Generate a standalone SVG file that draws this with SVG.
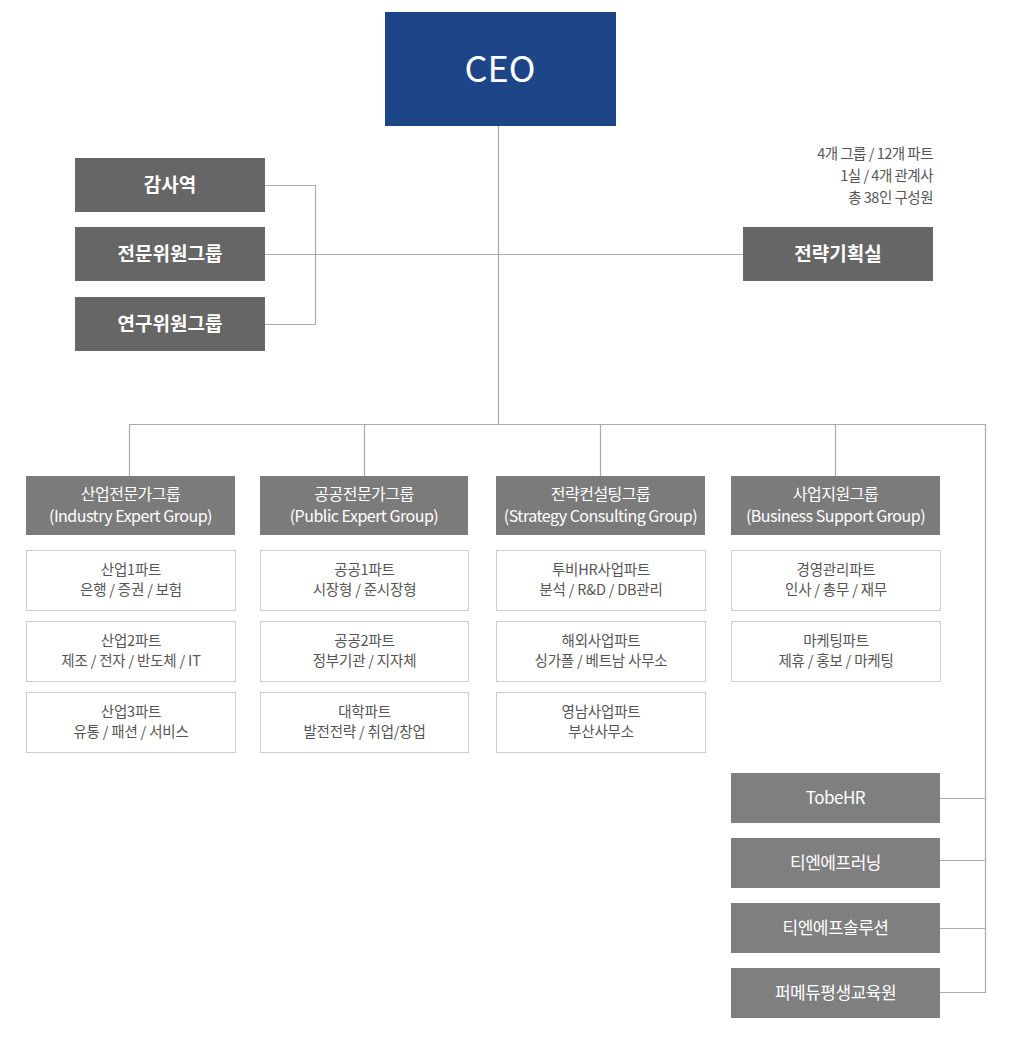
<svg xmlns="http://www.w3.org/2000/svg" width="1013" height="1048" viewBox="0 0 1013 1048">
<style>
text{font-family:"Noto Sans CJK KR","Noto Sans",sans-serif;text-anchor:middle}
.dk{fill:#666666}
.gr{fill:#7b7b7b}
.af{fill:#7f7f7f}
.sub{fill:#ffffff;stroke:#cccccc;stroke-width:1}
.wb{fill:#ffffff;font-size:19px;font-weight:bold}
.wg{fill:#ffffff;font-size:16px;letter-spacing:-0.5px}
.wa{fill:#ffffff;font-size:17px;letter-spacing:-0.5px}
.st{fill:#555555;font-size:14.5px;letter-spacing:-0.2px}
.info{fill:#555555;font-size:14.5px;text-anchor:end;letter-spacing:-0.5px}
.ln{fill:none;stroke:#aaaaaa;stroke-width:1.2}
</style>
<rect width="1013" height="1048" fill="#ffffff"/>
<g id="connectors">
<path class="ln" d="M498.5 126V424"/>
<path class="ln" d="M265 185.5H315.5V324.5H265"/>
<path class="ln" d="M265 254.5H743"/>
<path class="ln" d="M129.5 476V424.5H985.5V992.5H940"/>
<path class="ln" d="M364.5 424V476M600.5 424V476M835.5 424V476"/>
<path class="ln" d="M940 798.5H985M940 860.5H985M940 928.5H985"/>
</g>
<g id="ceo"><rect x="385" y="12" width="231" height="114" fill="#1f4589"/><text x="500" y="82" fill="#ffffff" font-size="36">CEO</text></g>
<g id="info">
<text class="info" x="933" y="159">4개 그룹 / 12개 파트</text>
<text class="info" x="933" y="181">1실 / 4개 관계사</text>
<text class="info" x="933" y="203">총 38인 구성원</text>
</g>
<g id="audit"><rect class="dk" x="75" y="158" width="190" height="54"/><text class="wb" x="170" y="192">감사역</text></g>
<g id="expert-committee"><rect class="dk" x="75" y="227" width="190" height="54"/><text class="wb" x="170" y="261">전문위원그룹</text></g>
<g id="research-committee"><rect class="dk" x="75" y="297" width="190" height="54"/><text class="wb" x="170" y="331">연구위원그룹</text></g>
<g id="strategy-office"><rect class="dk" x="743" y="227" width="190" height="54"/><text class="wb" x="838" y="261">전략기획실</text></g>

<g id="g-industry"><rect class="gr" x="26" y="476" width="209" height="59"/><text class="wg" x="130.5" y="500">산업전문가그룹</text><text class="wg" x="130.5" y="522">(Industry Expert Group)</text></g>
<g id="g-public"><rect class="gr" x="260" y="476" width="208" height="59"/><text class="wg" x="364" y="500">공공전문가그룹</text><text class="wg" x="364" y="522">(Public Expert Group)</text></g>
<g id="g-strategy"><rect class="gr" x="496" y="476" width="209" height="59"/><text class="wg" x="600.5" y="500">전략컨설팅그룹</text><text class="wg" x="600.5" y="522">(Strategy Consulting Group)</text></g>
<g id="g-business"><rect class="gr" x="731" y="476" width="209" height="59"/><text class="wg" x="835.5" y="500">사업지원그룹</text><text class="wg" x="835.5" y="522">(Business Support Group)</text></g>

<g id="p-ind1"><rect class="sub" x="26.5" y="550.5" width="209" height="60"/><text class="st" x="131" y="575">산업1파트</text><text class="st" x="131" y="595">은행 / 증권 / 보험</text></g>
<g id="p-ind2"><rect class="sub" x="26.5" y="621.5" width="209" height="60"/><text class="st" x="131" y="646">산업2파트</text><text class="st" x="131" y="666">제조 / 전자 / 반도체 / IT</text></g>
<g id="p-ind3"><rect class="sub" x="26.5" y="692.5" width="209" height="60"/><text class="st" x="131" y="717">산업3파트</text><text class="st" x="131" y="737">유통 / 패션 / 서비스</text></g>

<g id="p-pub1"><rect class="sub" x="260.5" y="550.5" width="208" height="60"/><text class="st" x="364.5" y="575">공공1파트</text><text class="st" x="364.5" y="595">시장형 / 준시장형</text></g>
<g id="p-pub2"><rect class="sub" x="260.5" y="621.5" width="208" height="60"/><text class="st" x="364.5" y="646">공공2파트</text><text class="st" x="364.5" y="666">정부기관 / 지자체</text></g>
<g id="p-univ"><rect class="sub" x="260.5" y="692.5" width="208" height="60"/><text class="st" x="364.5" y="717">대학파트</text><text class="st" x="364.5" y="737">발전전략 / 취업/창업</text></g>

<g id="p-tobehr"><rect class="sub" x="496.5" y="550.5" width="209" height="60"/><text class="st" x="601" y="575">투비HR사업파트</text><text class="st" x="601" y="595">분석 / R&amp;D / DB관리</text></g>
<g id="p-overseas"><rect class="sub" x="496.5" y="621.5" width="209" height="60"/><text class="st" x="601" y="646">해외사업파트</text><text class="st" x="601" y="666">싱가폴 / 베트남 사무소</text></g>
<g id="p-yeongnam"><rect class="sub" x="496.5" y="692.5" width="209" height="60"/><text class="st" x="601" y="717">영남사업파트</text><text class="st" x="601" y="737">부산사무소</text></g>

<g id="p-mgmt"><rect class="sub" x="731.5" y="550.5" width="209" height="60"/><text class="st" x="836" y="575">경영관리파트</text><text class="st" x="836" y="595">인사 / 총무 / 재무</text></g>
<g id="p-mkt"><rect class="sub" x="731.5" y="621.5" width="209" height="60"/><text class="st" x="836" y="646">마케팅파트</text><text class="st" x="836" y="666">제휴 / 홍보 / 마케팅</text></g>

<g id="a-tobehr"><rect class="af" x="731" y="773" width="209" height="50"/><text class="wa" x="835.5" y="804">TobeHR</text></g>
<g id="a-tnflearning"><rect class="af" x="731" y="838" width="209" height="50"/><text class="wa" x="835.5" y="869">티엔에프러닝</text></g>
<g id="a-tnfsolution"><rect class="af" x="731" y="903" width="209" height="50"/><text class="wa" x="835.5" y="934">티엔에프솔루션</text></g>
<g id="a-pmedu"><rect class="af" x="731" y="968" width="209" height="50"/><text class="wa" x="835.5" y="999">퍼메듀평생교육원</text></g>
</svg>
